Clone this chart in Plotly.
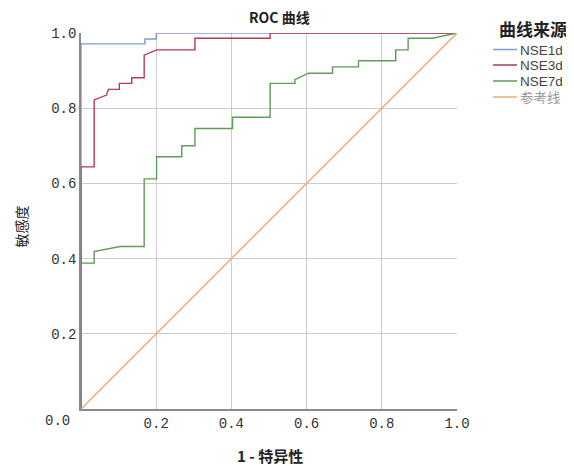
import plotly.graph_objects as go

# ROC curve data (1 - specificity, sensitivity)
nse1d_x = [0.0, 0.0, 0.17, 0.17, 0.2, 0.2, 1.0]
nse1d_y = [0.0, 0.971, 0.971, 0.984, 0.984, 1.0, 1.0]

nse3d_x = [0.0, 0.0, 0.035, 0.035, 0.068, 0.073, 0.102, 0.102, 0.135, 0.135, 0.168, 0.168, 0.201, 0.303, 0.303, 0.503, 0.503, 1.0]
nse3d_y = [0.0, 0.644, 0.644, 0.822, 0.835, 0.850, 0.850, 0.866, 0.866, 0.881, 0.881, 0.941, 0.955, 0.955, 0.986, 0.986, 1.0, 1.0]

nse7d_x = [0.0, 0.0, 0.035, 0.035, 0.104, 0.168, 0.168, 0.201, 0.201, 0.268, 0.268, 0.303, 0.303, 0.403, 0.403, 0.503, 0.503, 0.569, 0.569, 0.605, 0.669, 0.669, 0.738, 0.738, 0.837, 0.837, 0.870, 0.870, 0.935, 1.0]
nse7d_y = [0.0, 0.388, 0.388, 0.419, 0.432, 0.432, 0.612, 0.612, 0.671, 0.671, 0.700, 0.700, 0.746, 0.746, 0.776, 0.776, 0.866, 0.866, 0.876, 0.893, 0.893, 0.910, 0.910, 0.926, 0.926, 0.955, 0.955, 0.986, 0.986, 1.0]

ref_x = [0.0, 1.0]
ref_y = [0.0, 1.0]

series_names = ["NSE1d", "NSE3d", "NSE7d", "参考线"]
tick_vals = [0.0, 0.2, 0.4, 0.6, 0.8, 1.0]
tick_text = ["0.0", "0.2", "0.4", "0.6", "0.8", "1.0"]

colors = ["#7d9dcc", "#b93560", "#5f9c58", "#eaa97c"]

OFF = 8  # page body margin
W, H = 574 - OFF, 466 - OFF
# plot area in screen pixels
SL, SR, ST, SB = 81, 457, 33, 409
L, R, T, B = SL - OFF, SR - OFF, ST - OFF, SB - OFF


def px_x(p):
    return (p - SL) / (SR - SL)


def px_y(p):
    return (SB - p) / (SB - ST)


fig = go.Figure()
for xs, ys, name, c in zip([nse1d_x, nse3d_x, nse7d_x, ref_x],
                           [nse1d_y, nse3d_y, nse7d_y, ref_y],
                           series_names, colors):
    fig.add_trace(go.Scatter(x=xs, y=ys, mode="lines", name=name,
                             line=dict(color=c, width=1.4), hoverinfo="skip",
                             showlegend=False))

mono = "Liberation Mono, DejaVu Sans Mono, monospace"
cjk = "Noto Sans CJK SC, Liberation Sans, sans-serif"
sans = "Liberation Sans, Arial, sans-serif"

fig.update_layout(
    width=W, height=H,
    margin=dict(l=L, r=W - R, t=T, b=H - B, autoexpand=False),
    paper_bgcolor="white", plot_bgcolor="white",
    xaxis=dict(range=[0, 1], tickvals=tick_vals[1:], ticktext=tick_text[1:],
               showgrid=True, gridcolor="#cccccc", gridwidth=1,
               showline=True, linecolor="#8a8a8a", linewidth=1.5, layer="below traces",
               zeroline=False, ticks="", automargin=False,
               tickfont=dict(family=mono, size=14, color="#333")),
    yaxis=dict(range=[0, 1], tickvals=tick_vals[1:], ticktext=tick_text[1:],
               showgrid=True, gridcolor="#cccccc", gridwidth=1,
               showline=True, linecolor="#8a8a8a", linewidth=1.5, layer="below traces",
               zeroline=False, ticks="", automargin=False,
               tickfont=dict(family=mono, size=14, color="#333")),
    showlegend=False,
)

# chart title
fig.add_annotation(x=px_x(279), y=px_y(17), xref="paper", yref="paper",
                   text="<b>ROC 曲线</b>", showarrow=False, height=16,
                   xanchor="center", yanchor="middle",
                   font=dict(family=cjk, size=14, color="#222"))

# corner "0.0" tick label
fig.add_annotation(x=0, y=0, xref="paper", yref="y", text=tick_text[0],
                   showarrow=False, xanchor="right", yanchor="middle",
                   xshift=-9, yshift=-12, font=dict(family=mono, size=14, color="#333"))

# axis titles
fig.add_annotation(x=px_x(270), y=px_y(455), xref="paper", yref="paper",
                   text="<b>1 - 特异性</b>", showarrow=False,
                   xanchor="center", yanchor="middle",
                   font=dict(family=cjk, size=15, color="#222"))
fig.add_annotation(x=px_x(20.5), y=px_y(227), xref="paper", yref="paper",
                   text="敏感度", showarrow=False, textangle=-90,
                   xanchor="center", yanchor="middle",
                   font=dict(family=cjk, size=14, color="#222"))

# legend (manual)
fig.add_annotation(x=px_x(533), y=px_y(28), xref="paper", yref="paper",
                   text="<b>曲线来源</b>", showarrow=False, height=20,
                   xanchor="center", yanchor="middle",
                   font=dict(family=cjk, size=17, color="#222"))
leg_rows = [49.5, 65, 81, 97]
for name, c, row in zip(series_names, colors, leg_rows):
    fig.add_shape(type="line", xref="paper", yref="paper",
                  x0=px_x(493), x1=px_x(517), y0=px_y(row), y1=px_y(row),
                  line=dict(color=c, width=1.5))
    fig.add_annotation(x=px_x(518), y=px_y(row), xref="paper", yref="paper",
                       text=name, showarrow=False, xanchor="left", yanchor="middle",
                       height=14,
                       font=dict(family=sans if name.isascii() else cjk, size=13.5,
                                 color="#444" if name.isascii() else "#999"))

fig.write_html("out.html")
